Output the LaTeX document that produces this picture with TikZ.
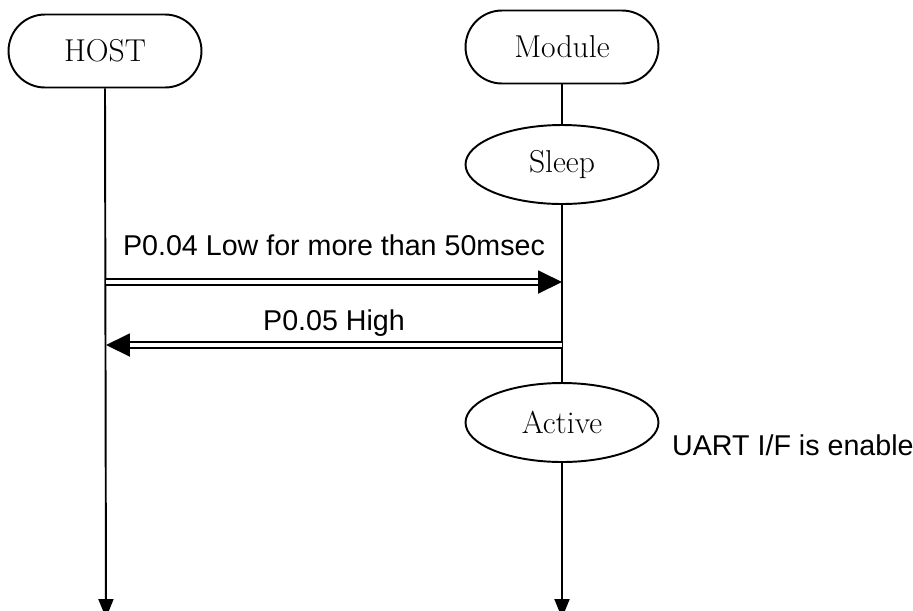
\documentclass[tikz,border=0pt]{standalone}
\usepackage{fontspec}
\newfontfamily\arialfont{Liberation Sans}
\usetikzlibrary{shapes.geometric,arrows.meta,positioning,calc}

\begin{document}
\begin{tikzpicture}[
  x=0.02cm, y=-0.02cm,
  party/.style={draw, line width=1.1pt, rounded corners=0.73cm,
    minimum width=3.86cm, minimum height=1.46cm, inner sep=0pt,
    font=\fontsize{18}{22}\selectfont},
  state/.style={draw, ellipse, line width=1.1pt,
    minimum width=3.86cm, minimum height=1.58cm, inner sep=0pt,
    font=\fontsize{18}{22}\selectfont},
  lifeline/.style={line width=1.1pt},
  signal/.style={double, line width=1.1pt, double distance=2pt,
    -{Triangle[length=0.48cm, width=0.46cm]}},
  msg/.style={font=\arialfont\fontsize{16.3}{19}\selectfont}
]

\useasboundingbox (0,0) rectangle (913,610);

% ================= PARTIES =================
\node[party] (host) at (105,51) {HOST};
\node[party] (module) at (562,47) {Module};

% ================= MODULE STATES =================
\node[state] (sleep) at (562,164.5) {Sleep};
\node[state] (active) at (562,422.5) {Active};
\node[msg, anchor=west] (uart) at (666,445) {UART I/F is enable};

% lifeline end points
\coordinate (hostend) at (106,618);
\coordinate (modend) at (562,618);

% ================= LIFELINES =================
\draw[lifeline, -{Triangle[length=0.38cm, width=0.3cm]}] (host.south) -- (hostend);
\draw[lifeline] (module.south) -- (sleep.north);
\draw[lifeline] (sleep.south) -- (active.north);
\draw[lifeline, -{Triangle[length=0.38cm, width=0.3cm]}] (active.south) -- (modend);

% ================= SIGNALS =================
\coordinate (wakeh) at (106,282);
\coordinate (wakem) at (562,282);
\coordinate (readym) at (562,345);
\coordinate (readyh) at (106,345);

\draw[signal] (wakeh) -- (wakem)
  node[msg, midway, above=11pt] (wakelbl) {P0.04 Low for more than 50msec};
\draw[signal] (readym) -- (readyh)
  node[msg, midway, above=1pt] (readylbl) {P0.05 High};

\end{tikzpicture}
\end{document}
